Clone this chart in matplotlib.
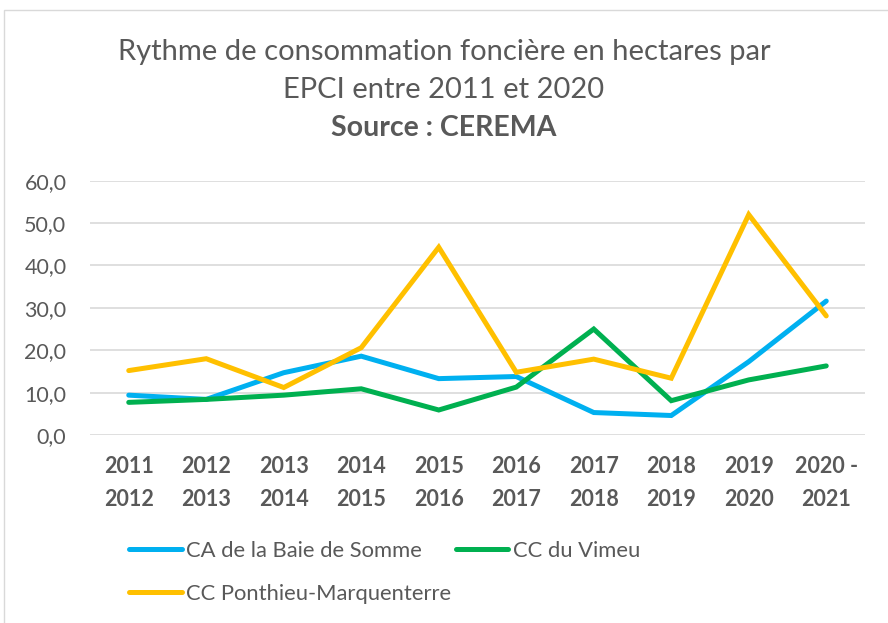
import matplotlib.pyplot as plt
from matplotlib.patches import Rectangle

# --- Données ---
periodes = ["2011\n2012", "2012\n2013", "2013\n2014", "2014\n2015", "2015\n2016",
            "2016\n2017", "2017\n2018", "2018\n2019", "2019\n2020", "2020 -\n2021"]
baie_somme = [9.4, 8.4, 14.7, 18.6, 13.3, 13.8, 5.3, 4.6, 17.3, 31.6]
vimeu = [7.7, 8.4, 9.4, 10.9, 5.9, 11.3, 25.0, 8.1, 13.0, 16.3]
ponthieu = [15.2, 18.0, 11.2, 20.6, 44.3, 14.8, 17.9, 13.4, 52.0, 28.1]

gris = "#595959"
plt.rcParams["font.family"] = ["Lato", "DejaVu Sans"]

fig = plt.figure(figsize=(8.88, 6.23), dpi=100)
ax = fig.add_axes([90 / 888, 1 - 435 / 623, 775 / 888, (435 - 180.7) / 623])

# bordure du cadre Excel
fig.patches.append(Rectangle((4 / 888, -0.01), 1.0, 1 - 10 / 623 + 0.01,
                             transform=fig.transFigure, fill=False,
                             edgecolor="#d9d9d9", linewidth=1))

x = list(range(len(periodes)))
l1, = ax.plot(x, baie_somme, color="#00B0F0", lw=3.6, solid_capstyle="round",
              solid_joinstyle="miter", label="CA de la Baie de Somme", zorder=3)
l2, = ax.plot(x, vimeu, color="#00B050", lw=3.6, solid_capstyle="round",
              solid_joinstyle="miter", label="CC du Vimeu", zorder=3)
l3, = ax.plot(x, ponthieu, color="#FFC000", lw=3.6, solid_capstyle="round",
              solid_joinstyle="miter", label="CC Ponthieu-Marquenterre", zorder=3)

ax.set_xlim(-0.5, len(periodes) - 0.5)
ax.set_ylim(0, 60)
ax.set_yticks(range(0, 61, 10))
ax.set_yticklabels([f"{v},0" for v in range(0, 61, 10)])
ax.set_xticks(x)
ax.set_xticklabels(periodes, fontweight="bold", linespacing=1.7)
ax.tick_params(axis="both", length=0, colors=gris)
ax.tick_params(axis="y", pad=17, labelsize=15.5)
ax.tick_params(axis="x", pad=15, labelsize=15.5)
ax.grid(axis="y", color="#d9d9d9", lw=1.2)
ax.set_axisbelow(True)
for s in ax.spines.values():
    s.set_visible(False)

fig.text(0.5, 1 - 52 / 623, "Rythme de consommation foncière en hectares par",
         ha="center", va="center", fontsize=21, color=gris)
fig.text(0.5, 1 - 90 / 623, "EPCI entre 2011 et 2020",
         ha="center", va="center", fontsize=21, color=gris)
fig.text(0.5, 1 - 128 / 623, "Source : CEREMA", ha="center", va="center",
         fontsize=20.5, fontweight="bold", color=gris)

leg = fig.legend(handles=[l1, l3, l2], loc="upper left", ncol=2,
                 bbox_to_anchor=(118 / 888, 1 - 530 / 623), frameon=False,
                 fontsize=15.8, handlelength=2.4, handletextpad=0.2,
                 columnspacing=0.2, labelspacing=1.05, borderpad=0)
for t in leg.get_texts():
    t.set_color(gris)

fig.savefig("out.png", dpi=100)
